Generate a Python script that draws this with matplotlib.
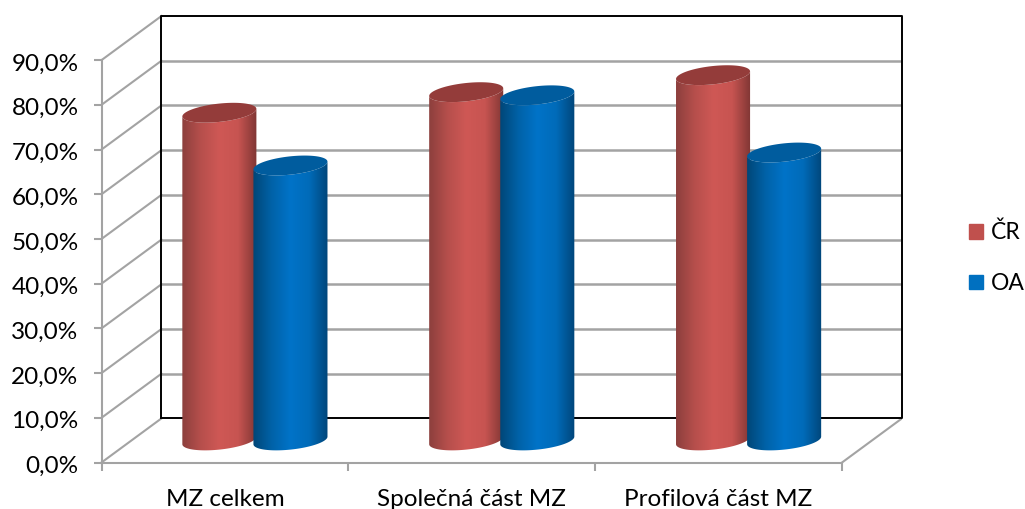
import numpy as np
import matplotlib
matplotlib.use("Agg")
import matplotlib.pyplot as plt
from matplotlib.patches import PathPatch, Patch
from matplotlib.path import Path
from matplotlib.colors import LinearSegmentedColormap
from matplotlib.transforms import ScaledTranslation

plt.rcParams['font.family'] = ['Lato', 'DejaVu Sans']

# data
kategorie = ["MZ celkem", "Společná část MZ", "Profilová část MZ"]
cr = [73.3, 77.9, 81.7]
oa = [61.5, 77.2, 64.4]
y_ticks = [0, 10, 20, 30, 40, 50, 60, 70, 80, 90]

# hloubka grafu (posun zadni steny)
DX = 0.243
DY = 9.87
RADIUS = 0.15
SKEW = 0.85
MINOR = 2.05
OFFSET = 0.144

GRID = "#a3a3a3"


def posun(x, y, d):
    return x + d * DX, y + d * DY


def valec(ax, x, hodnota, stopy, barva_top):
    cx, base = posun(x, 0, 0.5)
    top = base + hodnota
    t = np.linspace(0, 2 * np.pi, 121)

    # spodni oblouk zleva doprava, horni konec zprava doleva
    t_low = np.linspace(np.pi, 2 * np.pi, 60)
    low_x = cx + RADIUS * np.cos(t_low)
    low_y = base + SKEW * np.cos(t_low) + MINOR * np.sin(t_low)
    up_x = low_x[::-1]
    up_y = top + SKEW * np.cos(t_low[::-1]) + MINOR * np.sin(t_low[::-1])
    verts = np.column_stack([np.r_[low_x, up_x], np.r_[low_y, up_y]])
    telo = PathPatch(Path(np.vstack([verts, verts[0]]), closed=True), fc="none", ec="none", zorder=3)
    ax.add_patch(telo)

    cmap = LinearSegmentedColormap.from_list("v", stopy)
    im = ax.imshow(np.linspace(0, 1, 256).reshape(1, -1), cmap=cmap, aspect="auto",
                   extent=(cx - RADIUS, cx + RADIUS, base - 3, top + 3), zorder=3,
                   interpolation="bilinear")
    im.set_clip_path(telo)

    ax.fill(cx + RADIUS * np.cos(t), top + SKEW * np.cos(t) + MINOR * np.sin(t),
            color=barva_top, lw=0, zorder=3)


fig = plt.figure(figsize=(10.25, 5.09), dpi=100)
ax = fig.add_axes([101.5 / 1025, (509 - 462.5) / 509, 800.5 / 1025, 446.5 / 509])
ax.set_xlim(0, 3 + DX)
ax.set_ylim(0, 90 + DY)

# leva stena a podlaha
for v in y_ticks:
    x0, y0 = posun(0, v, 0)
    x1, y1 = posun(0, v, 1)
    ax.plot([x0, x1], [y0, y1], color=GRID, lw=1.5, clip_on=False, zorder=1)
ax.plot([3, 3 + DX], [0, DY], color=GRID, lw=1.5, zorder=1)

# zadni stena
for v in y_ticks[1:-1]:
    ax.plot([DX, 3 + DX], [v + DY, v + DY], color=GRID, lw=1.8, zorder=1)
ax.plot([DX, 3 + DX, 3 + DX, DX, DX], [DY, DY, 90 + DY, 90 + DY, DY], color="black", lw=1.4,
        clip_on=False, zorder=2)

# valce
pozice = np.arange(3) + 0.5
cervena = ["#8c3f3d", "#b64f4c", "#cf5855", "#c75451", "#7f3634"]
modra = ["#004677", "#0062a8", "#0073c8", "#006bb9", "#00467a"]
for i in range(3):
    valec(ax, pozice[i] - OFFSET, cr[i], cervena, "#943c3a")
    valec(ax, pozice[i] + OFFSET, oa[i], modra, "#005c9e")

ax.set_xlim(0, 3 + DX)
ax.set_ylim(0, 90 + DY)

# osy
for s in ["top", "right"]:
    ax.spines[s].set_visible(False)
ax.spines["left"].set_bounds(0, 90)
ax.spines["bottom"].set_bounds(0, 3)
ax.spines["left"].set_color(GRID)
ax.spines["bottom"].set_color(GRID)
ax.spines["left"].set_linewidth(1.5)
ax.spines["bottom"].set_linewidth(1.5)
ax.patch.set_alpha(0)

ax.set_yticks(y_ticks)
ax.set_yticklabels([f"{v:.1f}%".replace(".", ",") for v in y_ticks], fontsize=17.5)
ax.tick_params(axis="y", length=5.5, width=1.5, color=GRID, pad=11, labelcolor="black")
# popisky jsou v originale o kousek niz
posuv = ScaledTranslation(0, -2 / 100, fig.dpi_scale_trans)
for popis in ax.get_yticklabels():
    popis.set_transform(popis.get_transform() + posuv)
ax.set_xticks([0, 1, 2, 3])
ax.set_xticklabels([])
ax.set_xticks(pozice, minor=True)
ax.set_xticklabels(kategorie, minor=True, fontsize=17.5)
ax.tick_params(axis="x", which="major", length=6, width=1.5, color=GRID)
ax.tick_params(axis="x", which="minor", length=0, pad=19, labelcolor="black")

# legenda
ruce = [Patch(color="#c0504d", label="ČR"), Patch(color="#0070c0", label="OA")]
fig.legend(handles=ruce, loc="center left", bbox_to_anchor=(964 / 1025, (509 - 258) / 509),
           frameon=False, fontsize=16.5, handlelength=0.62, handleheight=0.62,
           handletextpad=0.35, labelspacing=1.29, borderpad=0, borderaxespad=0.2)

fig.savefig("out.png", dpi=100)
